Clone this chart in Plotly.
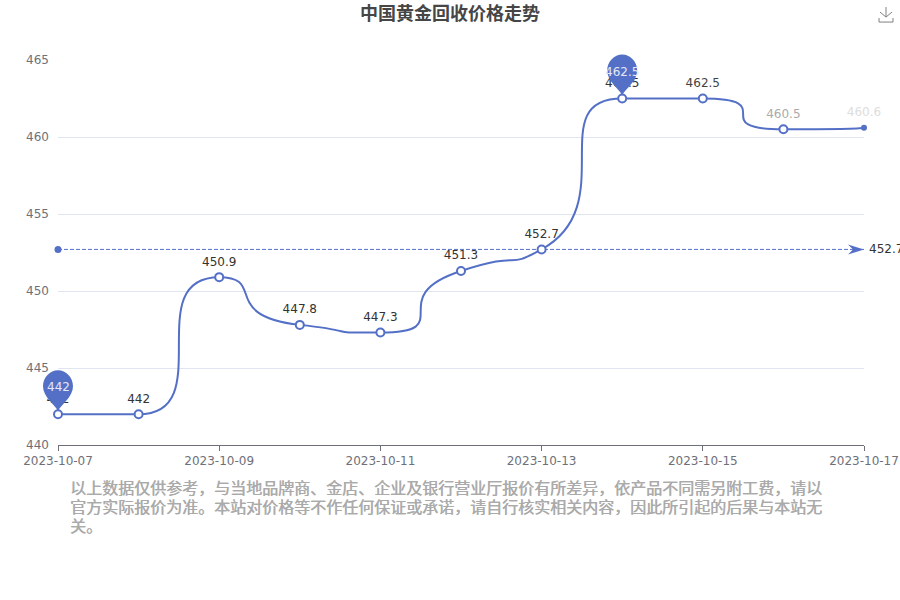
import math
import plotly.graph_objects as go

dates = ["2023-10-07","2023-10-08","2023-10-09","2023-10-10","2023-10-11","2023-10-12",
         "2023-10-13","2023-10-14","2023-10-15","2023-10-16","2023-10-17"]
prices = [442,442,450.9,447.8,447.3,451.3,452.7,462.5,462.5,460.5,460.6]
tick_dates = dates[::2]
y_ticks = [440,445,450,455,460,465]
label_colors = ["#333"]*8 + ["#444","#aaa","#ddd"]
marker_sizes = [8]*10 + [4]
mean_value = 452.7
y_range = [440, 465]
min_index, max_index = 0, 7
title = "中国黄金回收价格走势"
notes = ["以上数据仅供参考，与当地品牌商、金店、企业及银行营业厅报价有所差异，依产品不同需另附工费，请以",
         "官方实际报价为准。本站对价格等不作任何保证或承诺，请自行核实相关内容，因此所引起的后果与本站无",
         "关。"]
BLUE = "#5470c6"
FONT = "DejaVu Sans"
CJK = "Noto Sans CJK SC"
PIN = "M 0 3 C -3 10 -15 17 -15 28 C -15 37 -8 44 0 44 C 8 44 15 37 15 28 C 15 17 3 10 0 3 Z"
ARROW = "M -16 5 L 0 0 L -16 -5 L -11 0 Z"
ICON = "M -7 -3 L -7 -7 L 7 -7 L 7 -3 M -6 3 L 0 -2 L 6 3 M 0 -2 L 0 8"
SMOOTH = 1.0

PLOT_W, PLOT_H = 806, 385.5

def px(i):
    return i / (len(dates) - 1)

def py(v):
    return (v - y_range[0]) / (y_range[1] - y_range[0])

def clamp(v, a, b):
    return max(min(v, max(a, b)), min(a, b))

def smooth_path(values):
    """Bezier path through the values, one segment per pair, with handles set the way ECharts' smooth line sets them."""
    sx = PLOT_W / (len(values) - 1)
    sy = PLOT_H / (y_range[1] - y_range[0])
    pts = [(i * sx, v * sy) for i, v in enumerate(values)]
    handle_in = list(pts)
    handle_out = list(pts)
    for i in range(1, len(pts) - 1):
        (x0, y0), (x, y), (x1, y1) = pts[i - 1], pts[i], pts[i + 1]
        vx, vy = x1 - x0, y1 - y0
        len0, len1 = math.hypot(x - x0, y - y0), math.hypot(x1 - x, y1 - y)
        ratio = len1 / (len0 + len1)
        ox = clamp(x + vx * SMOOTH * ratio, x1, x)
        oy = clamp(y + vy * SMOOTH * ratio, y1, y)
        ix = clamp(x - (ox - x) * len0 / len1, x0, x)
        iy = clamp(y - (oy - y) * len0 / len1, y0, y)
        handle_in[i] = (ix, iy)
        handle_out[i] = (x + (x - ix) * len1 / len0, y + (y - iy) * len1 / len0)
    fmt = lambda p: f"{p[0] / sx:.5f} {p[1] / sy:.5f}"
    path = "M " + fmt(pts[0])
    for i in range(len(pts) - 1):
        path += " C " + fmt(handle_out[i]) + " " + fmt(handle_in[i + 1]) + " " + fmt(pts[i + 1])
    return path

fig = go.Figure()
fig.add_trace(go.Scatter(x=[dates[0], dates[-1]], y=[mean_value, mean_value], mode="lines",
                         line=dict(color=BLUE, width=1, dash="4px,2px"), hoverinfo="skip"))
fig.add_trace(go.Scatter(x=[dates[0]], y=[mean_value], mode="markers", cliponaxis=False,
                         marker=dict(color=BLUE, size=7), hoverinfo="skip"))
fig.add_trace(go.Scatter(
    x=dates, y=prices, mode="markers", cliponaxis=False,
    marker=dict(color=["white"]*10+[BLUE], size=marker_sizes, opacity=1, line=dict(color=BLUE, width=2))))
fig.add_trace(go.Scatter(
    x=dates, y=prices, mode="markers+text", cliponaxis=False, hoverinfo="skip",
    marker=dict(size=12, opacity=0),
    text=[str(v) for v in prices], textposition="top center",
    textfont=dict(family=FONT, size=12, color=label_colors)))

def anchored(path, x, y, **kw):
    return dict(type="path", path=path, xsizemode="pixel", ysizemode="pixel", xanchor=x, yanchor=y,
                xref="paper", yref="paper", layer="above", **kw)

pins = [min_index, max_index]
shapes = [dict(type="path", path=smooth_path(prices), xref="x", yref="y", layer="between", line=dict(color=BLUE, width=2))]
shapes += [anchored(PIN, px(i), py(prices[i]), fillcolor=BLUE, line=dict(width=0)) for i in pins]
shapes.append(anchored(ARROW, 1, py(mean_value), fillcolor=BLUE, line=dict(width=0)))
shapes.append(anchored(ICON, (886-58)/PLOT_W, (445.5-15)/PLOT_H, line=dict(color="#808080", width=1)))

ann = [dict(x=dates[i], y=prices[i], text=str(prices[i]), showarrow=False, yshift=27,
            font=dict(family=FONT, size=12, color="#e4e8f6")) for i in pins]
ann.append(dict(x=dates[-1], y=mean_value, text=str(mean_value), showarrow=False, xanchor="left", xshift=3,
                font=dict(family=FONT, size=12, color="#333")))
for i, line in enumerate(notes):
    ann.append(dict(xref="paper", yref="paper", x=9.5/PLOT_W, y=-(488+19*i-445.5)/PLOT_H, xanchor="left", yanchor="middle",
                    text=line, showarrow=False,
                    font=dict(family=CJK, size=16, color="#aaa", shadow="0.4px 0 0 #aaa")))

fig.update_layout(
    width=900, height=600, autosize=False, showlegend=False, plot_bgcolor="white", paper_bgcolor="white",
    margin=dict(l=58, r=36, t=60, b=154.5),
    title=dict(text="<b>"+title+"</b>", x=0.5, xanchor="center", y=1-14/600, yanchor="middle",
               font=dict(family=CJK, size=18, color="#464646")),
    xaxis=dict(type="category", categoryorder="array", categoryarray=dates, range=[0,10],
               tickmode="array", tickvals=tick_dates, ticks="outside", ticklen=5, tickcolor="#6e7079",
               showline=True, linecolor="#6e7079", linewidth=1, showgrid=False, automargin=False,
               tickfont=dict(family=FONT, size=12, color="#6e7079")),
    yaxis=dict(range=y_range, tickmode="array", tickvals=y_ticks, gridcolor="#e0e6f1", gridwidth=1,
               zeroline=False, showline=False, ticks="", ticklabelstandoff=8, automargin=False,
               tickfont=dict(family=FONT, size=12, color="#6e7079")),
    shapes=shapes, annotations=ann)
fig.write_html("out.html", config=dict(displayModeBar=False), post_script="document.body.style.margin='0';")
